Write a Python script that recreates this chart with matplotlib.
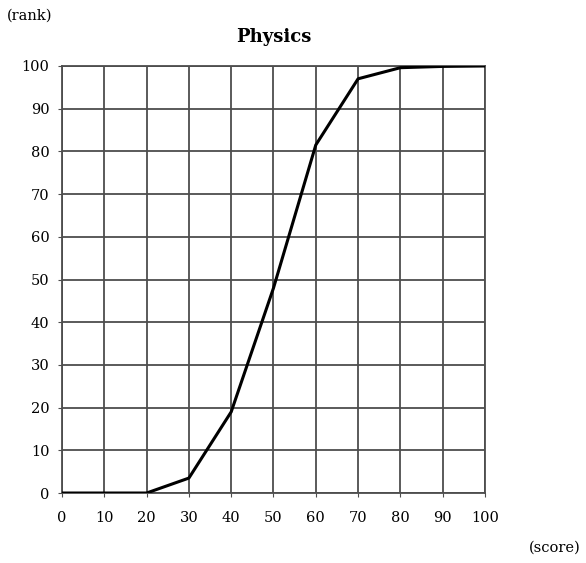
import matplotlib
matplotlib.use("Agg")
import matplotlib.pyplot as plt

scores = [0, 10, 20, 30, 40, 50, 60, 70, 80, 90, 100]
rank = [0, 0, 0, 3.5, 19, 48, 81.5, 97, 99.6, 99.9, 100]
ticks = list(range(0, 101, 10))

plt.rcParams["font.family"] = ["DejaVu Serif"]

fig = plt.figure(figsize=(5.86, 5.63), dpi=100)
ax = fig.add_axes([0.1058, 0.1243, 0.7218, 0.7585])

ax.plot(scores, rank, color="black", lw=2.2, zorder=3)
ax.set_xlim(0, 100)
ax.set_ylim(0, 100)
ax.set_xticks(ticks)
ax.set_yticks(ticks)
ax.grid(True, color="#4d4d4d", lw=1.3)
for s in ax.spines.values():
    s.set_color("#4d4d4d")
    s.set_linewidth(1.3)
ax.tick_params(length=3, color="#4d4d4d", labelsize=10.5)
ax.tick_params(axis="x", pad=10)
ax.tick_params(axis="y", pad=6)

ax.set_title("Physics", fontsize=13, fontweight="bold", pad=17)
fig.text(0.012, 0.972, "(rank)", fontsize=10.5, ha="left", va="center")
fig.text(0.99, 0.027, "(score)", fontsize=10.5, ha="right", va="center")

fig.savefig("out.png", dpi=100)
